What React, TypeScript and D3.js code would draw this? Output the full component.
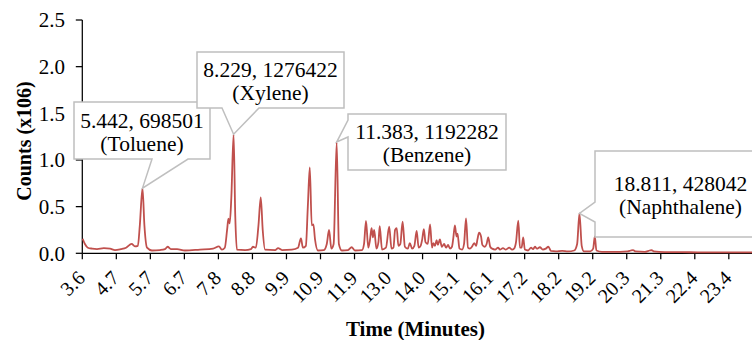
import React from 'react';
import * as d3 from 'd3';

// Chromatogram trace: retention time (minutes) and counts (x10^6)
const retentionTimes = [
  3.61, 3.68, 3.77, 3.9, 4.05, 4.26, 4.45, 4.6, 4.78, 4.94, 5.11, 5.21, 5.3, 5.36, 5.442, 5.5, 5.58,
  5.73, 5.98, 6.13, 6.21, 6.31, 6.5, 6.74, 7.2, 7.6, 7.78, 7.87, 7.96, 8.03, 8.07, 8.11, 8.16, 8.229,
  8.28, 8.33, 8.58, 8.76, 8.82, 8.91, 8.99, 9.06, 9.12, 9.19, 9.5, 9.59, 9.71, 10.01, 10.2, 10.29,
  10.35, 10.44, 10.5, 10.56, 10.62, 10.67, 10.72, 10.81, 10.99, 11.08, 11.15, 11.22, 11.29, 11.383,
  11.45, 11.54, 11.73, 11.84, 11.94, 12.16, 12.22, 12.28, 12.35, 12.4, 12.45, 12.49, 12.53, 12.6,
  12.66, 12.7, 12.77, 12.89, 12.99, 13.06, 13.12, 13.17, 13.22, 13.27, 13.33, 13.4, 13.47, 13.56,
  13.62, 13.69, 13.76, 13.83, 13.89, 13.95, 14.0, 14.05, 14.1, 14.17, 14.24, 14.3, 14.34, 14.39,
  14.44, 14.48, 14.54, 14.6, 14.67, 14.73, 14.79, 14.85, 14.91, 14.95, 15.0, 15.05, 15.08, 15.14,
  15.22, 15.28, 15.34, 15.4, 15.46, 15.52, 15.59, 15.65, 15.69, 15.74, 15.8, 15.84, 15.91, 15.97,
  16.02, 16.08, 16.14, 16.23, 16.32, 16.38, 16.47, 16.56, 16.66, 16.75, 16.81, 16.87, 16.94, 16.99,
  17.04, 17.09, 17.14, 17.24, 17.33, 17.39, 17.45, 17.51, 17.6, 17.69, 17.78, 17.86, 17.94, 18.09,
  18.28, 18.46, 18.65, 18.74, 18.811, 18.88, 18.95, 19.14, 19.23, 19.28, 19.33, 19.5, 19.74, 20.05,
  20.29, 20.38, 20.45, 20.53, 20.81, 20.96, 21.02, 21.08, 21.42, 21.88, 22.49, 23.11, 23.72, 24.09,
];
const countsMillions = [
  0.156, 0.1, 0.06, 0.05, 0.045, 0.055, 0.05, 0.035, 0.045, 0.06, 0.1, 0.075, 0.08, 0.3, 0.698501, 0.3, 0.06,
  0.03, 0.035, 0.045, 0.07, 0.045, 0.045, 0.03, 0.04, 0.05, 0.075, 0.04, 0.06, 0.25, 0.37, 0.32, 0.6, 1.276422,
  0.4, 0.04, 0.035, 0.045, 0.07, 0.06, 0.3, 0.6, 0.25, 0.04, 0.035, 0.055, 0.035, 0.04, 0.06, 0.16,
  0.06, 0.08, 0.5, 0.92, 0.3, 0.31, 0.15, 0.03, 0.035, 0.1, 0.25, 0.05, 0.1, 1.192282,
  0.1, 0.03, 0.035, 0.065, 0.03, 0.035, 0.1, 0.346, 0.06, 0.14, 0.27, 0.17, 0.25, 0.05,
  0.12, 0.29, 0.04, 0.06, 0.285, 0.05, 0.06, 0.25, 0.27, 0.08, 0.1, 0.34, 0.07, 0.05,
  0.11, 0.05, 0.08, 0.24, 0.06, 0.08, 0.15, 0.26, 0.12, 0.1, 0.31, 0.06, 0.11, 0.08,
  0.14, 0.09, 0.15, 0.07, 0.1, 0.06, 0.09, 0.05, 0.07, 0.16, 0.3, 0.18, 0.21, 0.05,
  0.04, 0.1, 0.375, 0.06, 0.05, 0.07, 0.11, 0.08, 0.15, 0.22, 0.18, 0.09, 0.07, 0.1,
  0.17, 0.07, 0.05, 0.04, 0.06, 0.04, 0.055, 0.04, 0.06, 0.04, 0.05, 0.12, 0.35, 0.06,
  0.06, 0.17, 0.04, 0.03, 0.06, 0.045, 0.07, 0.05, 0.065, 0.04, 0.05, 0.07, 0.025, 0.02,
  0.025, 0.02, 0.03, 0.1, 0.428042, 0.08, 0.02, 0.02, 0.05, 0.18, 0.03, 0.015, 0.015, 0.015,
  0.02, 0.03, 0.035, 0.02, 0.015, 0.03, 0.035, 0.02, 0.012, 0.012, 0.01, 0.01, 0.01, 0.01,
];

const xTickLabels = [
  '3.6', '4.7', '5.7', '6.7', '7.8', '8.8', '9.9', '10.9', '11.9', '13.0',
  '14.0', '15.1', '16.1', '17.2', '18.2', '19.2', '20.3', '21.3', '22.4', '23.4',
];
const xTickStart = 3.6;
const xTickStep = 1.0411;
const yTickValues = [0, 0.5, 1.0, 1.5, 2.0, 2.5];

const peakTimes = [5.442, 8.229, 11.383, 18.811];
const peakCounts = [698501, 1276422, 1192282, 428042];
const peakNames = ['Toluene', 'Xylene', 'Benzene', 'Naphthalene'];

// callout layout (box: x0, y0, x1, y1; pointer side and base span)
const calloutLayout = [
  { box: [74, 102, 210, 159], side: 'bottom', base: [152, 188] },
  { box: [197, 52, 344, 108], side: 'bottom', base: [222, 259] },
  { box: [348, 114, 506, 170], side: 'left', base: [120, 137] },
  { box: [595, 151, 766, 237], side: 'left', base: [202, 222] },
];

const W = 752;
const H = 340;
const FONT = 'Liberation Serif, Times New Roman, serif';

export default function App() {
  const x = d3.scaleLinear().domain([3.6, 24.09]).range([82.3, 752]);
  const y = d3.scaleLinear().domain([0, 2.5]).range([253.3, 20]);
  const line = d3
    .line<number>()
    .x((_, i) => x(retentionTimes[i]))
    .y((d) => y(d))
    .curve(d3.curveMonotoneX);
  const axisX = x.range()[0];
  const axisY = y(0);
  const ts = { fontFamily: FONT };

  return (
    <svg
      width={W}
      height={H}
      style={{ position: 'absolute', left: 0, top: 0, background: '#fff', fontFamily: FONT }}
    >
      {/* Y axis */}
      <line x1={axisX} x2={axisX} y1={y(2.5)} y2={axisY} stroke="#000" strokeWidth={1.25} />
      {yTickValues.map((v) => (
        <g key={v}>
          <line x1={axisX - 6.5} x2={axisX} y1={y(v)} y2={y(v)} stroke="#000" strokeWidth={1.25} />
          <text x={65} y={y(v)} dy="0.35em" textAnchor="end" fontSize={21} fill="#000" style={ts}>
            {d3.format('.1f')(v)}
          </text>
        </g>
      ))}
      {/* X axis */}
      <line x1={axisX} x2={W} y1={axisY} y2={axisY} stroke="#000" strokeWidth={1.25} />
      {xTickLabels.map((lab, i) => {
        const tx = x(xTickStart + i * xTickStep);
        return (
          <g key={lab}>
            <line x1={tx} x2={tx} y1={axisY} y2={axisY + 6} stroke="#000" strokeWidth={1.25} />
            <text
              transform={`translate(${tx + 4},${axisY + 26}) rotate(-45)`}
              textAnchor="end"
              fontSize={20}
              fill="#000"
              style={ts}
            >
              {lab}
            </text>
          </g>
        );
      })}
      {/* Trace */}
      <path d={line(countsMillions) || ''} fill="none" stroke="#c0504d" strokeWidth={1.8} strokeLinejoin="round" />

      {/* Callouts */}
      {calloutLayout.map((c, i) => {
        const [x0, y0, x1, y1] = c.box;
        const tipX = x(peakTimes[i]);
        const tipY = y(peakCounts[i] / 1e6);
        const [b0, b1] = c.base;
        const d =
          c.side === 'bottom'
            ? `M${x0},${y0}H${x1}V${y1}H${b1}L${tipX},${tipY}L${b0},${y1}H${x0}Z`
            : `M${x0},${y0}H${x1}V${y1}H${x0}V${b1}L${tipX},${tipY}L${x0},${b0}Z`;
        const cx = (x0 + x1) / 2;
        const cy = (y0 + y1) / 2;
        return (
          <g key={peakNames[i]}>
            <path d={d} fill="#fff" stroke="#bfbfbf" strokeWidth={1.5} />
            <text x={cx} y={cy - 3} textAnchor="middle" fontSize={21.5} fill="#000" style={ts}>
              {`${peakTimes[i]}, ${peakCounts[i]}`}
            </text>
            <text x={cx} y={cy + 20} textAnchor="middle" fontSize={21.5} fill="#000" style={ts}>
              {`(${peakNames[i]})`}
            </text>
          </g>
        );
      })}

      {/* Axis titles */}
      <text x={415.5} y={336} textAnchor="middle" fontSize={21} fontWeight="bold" fill="#000" style={ts}>
        Time (Minutes)
      </text>
      <text
        transform={`translate(31,141) rotate(-90)`}
        textAnchor="middle"
        fontSize={20}
        fontWeight="bold"
        fill="#000"
        style={ts}
      >
        Counts (x106)
      </text>
    </svg>
  );
}
